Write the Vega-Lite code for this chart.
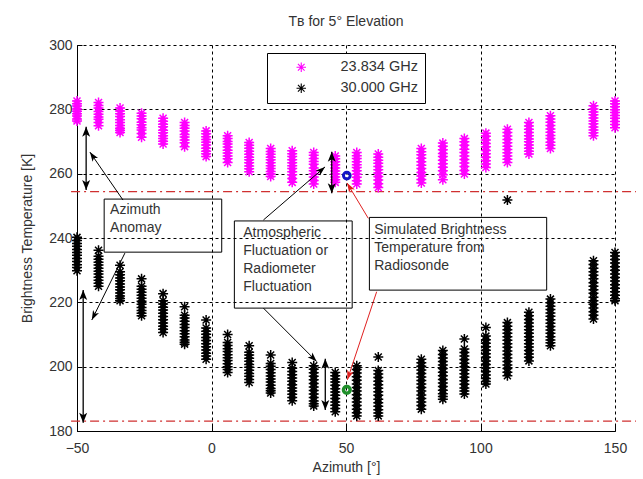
{
"$schema":"https://vega.github.io/schema/vega-lite/v6.json",
"width":538,"height":386,
"autosize":{"type":"none"},
"padding":{"left":77,"top":45,"right":28,"bottom":48},
"background":"white",
"config":{"view":{"stroke":null},"font":"Liberation Sans"},
"title":{"text":"Tʙ for 5° Elevation","fontSize":14,"fontWeight":"normal","color":"#333","offset":9,"anchor":"middle"},
"datasets":{
"tb":[
{"a":-50,"s":"23.834 GHz","t":282.6},{"a":-50,"s":"23.834 GHz","t":281.7},{"a":-50,"s":"23.834 GHz","t":281.0},{"a":-50,"s":"23.834 GHz","t":280.1},{"a":-50,"s":"23.834 GHz","t":279.4},{"a":-50,"s":"23.834 GHz","t":278.6},{"a":-50,"s":"23.834 GHz","t":277.9},{"a":-50,"s":"23.834 GHz","t":277.0},{"a":-50,"s":"23.834 GHz","t":276.4},
{"a":-42,"s":"23.834 GHz","t":282.1},{"a":-42,"s":"23.834 GHz","t":281.2},{"a":-42,"s":"23.834 GHz","t":280.4},{"a":-42,"s":"23.834 GHz","t":279.3},{"a":-42,"s":"23.834 GHz","t":278.5},{"a":-42,"s":"23.834 GHz","t":277.6},{"a":-42,"s":"23.834 GHz","t":276.9},{"a":-42,"s":"23.834 GHz","t":275.9},{"a":-42,"s":"23.834 GHz","t":274.9},
{"a":-34,"s":"23.834 GHz","t":280.4},{"a":-34,"s":"23.834 GHz","t":279.5},{"a":-34,"s":"23.834 GHz","t":278.6},{"a":-34,"s":"23.834 GHz","t":277.8},{"a":-34,"s":"23.834 GHz","t":276.8},{"a":-34,"s":"23.834 GHz","t":275.9},{"a":-34,"s":"23.834 GHz","t":275.0},{"a":-34,"s":"23.834 GHz","t":274.1},{"a":-34,"s":"23.834 GHz","t":273.5},{"a":-34,"s":"23.834 GHz","t":272.8},
{"a":-26,"s":"23.834 GHz","t":278.8},{"a":-26,"s":"23.834 GHz","t":277.9},{"a":-26,"s":"23.834 GHz","t":277.1},{"a":-26,"s":"23.834 GHz","t":276.0},{"a":-26,"s":"23.834 GHz","t":275.2},{"a":-26,"s":"23.834 GHz","t":274.3},{"a":-26,"s":"23.834 GHz","t":273.6},{"a":-26,"s":"23.834 GHz","t":272.5},{"a":-26,"s":"23.834 GHz","t":271.3},
{"a":-18,"s":"23.834 GHz","t":277.2},{"a":-18,"s":"23.834 GHz","t":276.3},{"a":-18,"s":"23.834 GHz","t":275.4},{"a":-18,"s":"23.834 GHz","t":274.6},{"a":-18,"s":"23.834 GHz","t":273.5},{"a":-18,"s":"23.834 GHz","t":272.7},{"a":-18,"s":"23.834 GHz","t":271.8},{"a":-18,"s":"23.834 GHz","t":270.9},{"a":-18,"s":"23.834 GHz","t":270.1},{"a":-18,"s":"23.834 GHz","t":269.2},
{"a":-10,"s":"23.834 GHz","t":275.9},{"a":-10,"s":"23.834 GHz","t":275.0},{"a":-10,"s":"23.834 GHz","t":274.1},{"a":-10,"s":"23.834 GHz","t":273.3},{"a":-10,"s":"23.834 GHz","t":272.2},{"a":-10,"s":"23.834 GHz","t":271.4},{"a":-10,"s":"23.834 GHz","t":270.5},{"a":-10,"s":"23.834 GHz","t":269.6},{"a":-10,"s":"23.834 GHz","t":268.4},
{"a":-2,"s":"23.834 GHz","t":273.3},{"a":-2,"s":"23.834 GHz","t":272.4},{"a":-2,"s":"23.834 GHz","t":271.5},{"a":-2,"s":"23.834 GHz","t":270.6},{"a":-2,"s":"23.834 GHz","t":269.8},{"a":-2,"s":"23.834 GHz","t":268.9},{"a":-2,"s":"23.834 GHz","t":267.9},{"a":-2,"s":"23.834 GHz","t":267.0},{"a":-2,"s":"23.834 GHz","t":266.2},{"a":-2,"s":"23.834 GHz","t":265.3},
{"a":6,"s":"23.834 GHz","t":271.8},{"a":6,"s":"23.834 GHz","t":270.9},{"a":6,"s":"23.834 GHz","t":270.0},{"a":6,"s":"23.834 GHz","t":269.2},{"a":6,"s":"23.834 GHz","t":268.3},{"a":6,"s":"23.834 GHz","t":267.3},{"a":6,"s":"23.834 GHz","t":266.4},{"a":6,"s":"23.834 GHz","t":265.5},{"a":6,"s":"23.834 GHz","t":264.6},{"a":6,"s":"23.834 GHz","t":263.5},
{"a":14,"s":"23.834 GHz","t":269.7},{"a":14,"s":"23.834 GHz","t":268.8},{"a":14,"s":"23.834 GHz","t":267.9},{"a":14,"s":"23.834 GHz","t":267.0},{"a":14,"s":"23.834 GHz","t":266.0},{"a":14,"s":"23.834 GHz","t":265.1},{"a":14,"s":"23.834 GHz","t":264.3},{"a":14,"s":"23.834 GHz","t":263.4},{"a":14,"s":"23.834 GHz","t":262.4},{"a":14,"s":"23.834 GHz","t":261.5},{"a":14,"s":"23.834 GHz","t":260.6},
{"a":22,"s":"23.834 GHz","t":267.8},{"a":22,"s":"23.834 GHz","t":266.9},{"a":22,"s":"23.834 GHz","t":266.0},{"a":22,"s":"23.834 GHz","t":265.1},{"a":22,"s":"23.834 GHz","t":264.3},{"a":22,"s":"23.834 GHz","t":263.4},{"a":22,"s":"23.834 GHz","t":262.5},{"a":22,"s":"23.834 GHz","t":261.6},{"a":22,"s":"23.834 GHz","t":260.7},{"a":22,"s":"23.834 GHz","t":259.9},{"a":22,"s":"23.834 GHz","t":259.1},
{"a":30,"s":"23.834 GHz","t":267.1},{"a":30,"s":"23.834 GHz","t":266.2},{"a":30,"s":"23.834 GHz","t":265.3},{"a":30,"s":"23.834 GHz","t":264.3},{"a":30,"s":"23.834 GHz","t":263.4},{"a":30,"s":"23.834 GHz","t":262.5},{"a":30,"s":"23.834 GHz","t":261.6},{"a":30,"s":"23.834 GHz","t":260.6},{"a":30,"s":"23.834 GHz","t":259.7},{"a":30,"s":"23.834 GHz","t":258.5},{"a":30,"s":"23.834 GHz","t":257.3},
{"a":38,"s":"23.834 GHz","t":266.6},{"a":38,"s":"23.834 GHz","t":265.7},{"a":38,"s":"23.834 GHz","t":264.7},{"a":38,"s":"23.834 GHz","t":263.8},{"a":38,"s":"23.834 GHz","t":262.9},{"a":38,"s":"23.834 GHz","t":261.8},{"a":38,"s":"23.834 GHz","t":260.9},{"a":38,"s":"23.834 GHz","t":260.0},{"a":38,"s":"23.834 GHz","t":259.0},{"a":38,"s":"23.834 GHz","t":257.9},{"a":38,"s":"23.834 GHz","t":256.8},
{"a":46,"s":"23.834 GHz","t":265.5},{"a":46,"s":"23.834 GHz","t":264.6},{"a":46,"s":"23.834 GHz","t":263.7},{"a":46,"s":"23.834 GHz","t":262.8},{"a":46,"s":"23.834 GHz","t":261.8},{"a":46,"s":"23.834 GHz","t":260.8},{"a":46,"s":"23.834 GHz","t":259.9},{"a":46,"s":"23.834 GHz","t":259.0},{"a":46,"s":"23.834 GHz","t":258.1},{"a":46,"s":"23.834 GHz","t":257.3},
{"a":54,"s":"23.834 GHz","t":266.6},{"a":54,"s":"23.834 GHz","t":265.6},{"a":54,"s":"23.834 GHz","t":264.7},{"a":54,"s":"23.834 GHz","t":263.7},{"a":54,"s":"23.834 GHz","t":262.8},{"a":54,"s":"23.834 GHz","t":261.9},{"a":54,"s":"23.834 GHz","t":260.9},{"a":54,"s":"23.834 GHz","t":259.8},{"a":54,"s":"23.834 GHz","t":258.9},{"a":54,"s":"23.834 GHz","t":257.8},{"a":54,"s":"23.834 GHz","t":256.8},
{"a":62,"s":"23.834 GHz","t":266.1},{"a":62,"s":"23.834 GHz","t":265.1},{"a":62,"s":"23.834 GHz","t":264.2},{"a":62,"s":"23.834 GHz","t":263.2},{"a":62,"s":"23.834 GHz","t":262.2},{"a":62,"s":"23.834 GHz","t":261.2},{"a":62,"s":"23.834 GHz","t":260.2},{"a":62,"s":"23.834 GHz","t":259.1},{"a":62,"s":"23.834 GHz","t":258.0},{"a":62,"s":"23.834 GHz","t":256.9},{"a":62,"s":"23.834 GHz","t":255.7},
{"a":78,"s":"23.834 GHz","t":267.8},{"a":78,"s":"23.834 GHz","t":266.8},{"a":78,"s":"23.834 GHz","t":265.9},{"a":78,"s":"23.834 GHz","t":264.8},{"a":78,"s":"23.834 GHz","t":263.7},{"a":78,"s":"23.834 GHz","t":262.6},{"a":78,"s":"23.834 GHz","t":261.6},{"a":78,"s":"23.834 GHz","t":260.4},{"a":78,"s":"23.834 GHz","t":259.3},{"a":78,"s":"23.834 GHz","t":258.2},{"a":78,"s":"23.834 GHz","t":257.1},
{"a":86,"s":"23.834 GHz","t":269.5},{"a":86,"s":"23.834 GHz","t":268.5},{"a":86,"s":"23.834 GHz","t":267.4},{"a":86,"s":"23.834 GHz","t":266.3},{"a":86,"s":"23.834 GHz","t":265.3},{"a":86,"s":"23.834 GHz","t":264.2},{"a":86,"s":"23.834 GHz","t":263.1},{"a":86,"s":"23.834 GHz","t":262.0},{"a":86,"s":"23.834 GHz","t":260.9},{"a":86,"s":"23.834 GHz","t":259.7},{"a":86,"s":"23.834 GHz","t":258.1},
{"a":94,"s":"23.834 GHz","t":270.9},{"a":94,"s":"23.834 GHz","t":269.9},{"a":94,"s":"23.834 GHz","t":268.8},{"a":94,"s":"23.834 GHz","t":267.6},{"a":94,"s":"23.834 GHz","t":266.6},{"a":94,"s":"23.834 GHz","t":265.5},{"a":94,"s":"23.834 GHz","t":264.4},{"a":94,"s":"23.834 GHz","t":263.3},{"a":94,"s":"23.834 GHz","t":262.2},{"a":94,"s":"23.834 GHz","t":261.0},{"a":94,"s":"23.834 GHz","t":259.9},
{"a":102,"s":"23.834 GHz","t":272.6},{"a":102,"s":"23.834 GHz","t":271.6},{"a":102,"s":"23.834 GHz","t":270.5},{"a":102,"s":"23.834 GHz","t":269.4},{"a":102,"s":"23.834 GHz","t":268.4},{"a":102,"s":"23.834 GHz","t":267.2},{"a":102,"s":"23.834 GHz","t":266.2},{"a":102,"s":"23.834 GHz","t":265.1},{"a":102,"s":"23.834 GHz","t":264.0},{"a":102,"s":"23.834 GHz","t":263.0},{"a":102,"s":"23.834 GHz","t":261.9},
{"a":110,"s":"23.834 GHz","t":273.8},{"a":110,"s":"23.834 GHz","t":272.8},{"a":110,"s":"23.834 GHz","t":271.7},{"a":110,"s":"23.834 GHz","t":270.6},{"a":110,"s":"23.834 GHz","t":269.6},{"a":110,"s":"23.834 GHz","t":268.5},{"a":110,"s":"23.834 GHz","t":267.5},{"a":110,"s":"23.834 GHz","t":266.5},{"a":110,"s":"23.834 GHz","t":265.5},{"a":110,"s":"23.834 GHz","t":264.5},{"a":110,"s":"23.834 GHz","t":263.5},
{"a":118,"s":"23.834 GHz","t":275.9},{"a":118,"s":"23.834 GHz","t":274.8},{"a":118,"s":"23.834 GHz","t":273.8},{"a":118,"s":"23.834 GHz","t":272.8},{"a":118,"s":"23.834 GHz","t":271.8},{"a":118,"s":"23.834 GHz","t":270.8},{"a":118,"s":"23.834 GHz","t":269.9},{"a":118,"s":"23.834 GHz","t":268.9},{"a":118,"s":"23.834 GHz","t":267.9},{"a":118,"s":"23.834 GHz","t":267.0},{"a":118,"s":"23.834 GHz","t":266.1},
{"a":126,"s":"23.834 GHz","t":278.0},{"a":126,"s":"23.834 GHz","t":277.0},{"a":126,"s":"23.834 GHz","t":276.0},{"a":126,"s":"23.834 GHz","t":275.0},{"a":126,"s":"23.834 GHz","t":273.9},{"a":126,"s":"23.834 GHz","t":272.9},{"a":126,"s":"23.834 GHz","t":271.9},{"a":126,"s":"23.834 GHz","t":270.9},{"a":126,"s":"23.834 GHz","t":269.8},{"a":126,"s":"23.834 GHz","t":268.8},{"a":126,"s":"23.834 GHz","t":267.8},
{"a":142,"s":"23.834 GHz","t":281.1},{"a":142,"s":"23.834 GHz","t":280.1},{"a":142,"s":"23.834 GHz","t":279.2},{"a":142,"s":"23.834 GHz","t":278.3},{"a":142,"s":"23.834 GHz","t":277.3},{"a":142,"s":"23.834 GHz","t":276.4},{"a":142,"s":"23.834 GHz","t":275.5},{"a":142,"s":"23.834 GHz","t":274.5},{"a":142,"s":"23.834 GHz","t":273.6},{"a":142,"s":"23.834 GHz","t":272.7},{"a":142,"s":"23.834 GHz","t":271.8},
{"a":150,"s":"23.834 GHz","t":282.6},{"a":150,"s":"23.834 GHz","t":281.7},{"a":150,"s":"23.834 GHz","t":280.8},{"a":150,"s":"23.834 GHz","t":279.9},{"a":150,"s":"23.834 GHz","t":279.0},{"a":150,"s":"23.834 GHz","t":278.1},{"a":150,"s":"23.834 GHz","t":277.2},{"a":150,"s":"23.834 GHz","t":276.2},{"a":150,"s":"23.834 GHz","t":275.3},{"a":150,"s":"23.834 GHz","t":274.3},
{"a":-50,"s":"30.000 GHz","t":240.2},{"a":-50,"s":"30.000 GHz","t":239.2},{"a":-50,"s":"30.000 GHz","t":238.3},{"a":-50,"s":"30.000 GHz","t":237.4},{"a":-50,"s":"30.000 GHz","t":236.4},{"a":-50,"s":"30.000 GHz","t":235.5},{"a":-50,"s":"30.000 GHz","t":234.6},{"a":-50,"s":"30.000 GHz","t":233.6},{"a":-50,"s":"30.000 GHz","t":232.7},{"a":-50,"s":"30.000 GHz","t":231.7},{"a":-50,"s":"30.000 GHz","t":230.8},{"a":-50,"s":"30.000 GHz","t":229.8},
{"a":-42,"s":"30.000 GHz","t":236.2},{"a":-42,"s":"30.000 GHz","t":234.3},{"a":-42,"s":"30.000 GHz","t":233.4},{"a":-42,"s":"30.000 GHz","t":232.5},{"a":-42,"s":"30.000 GHz","t":231.6},{"a":-42,"s":"30.000 GHz","t":230.6},{"a":-42,"s":"30.000 GHz","t":229.7},{"a":-42,"s":"30.000 GHz","t":228.8},{"a":-42,"s":"30.000 GHz","t":227.8},{"a":-42,"s":"30.000 GHz","t":226.9},{"a":-42,"s":"30.000 GHz","t":225.9},{"a":-42,"s":"30.000 GHz","t":225.0},
{"a":-34,"s":"30.000 GHz","t":231.5},{"a":-34,"s":"30.000 GHz","t":229.5},{"a":-34,"s":"30.000 GHz","t":228.6},{"a":-34,"s":"30.000 GHz","t":227.6},{"a":-34,"s":"30.000 GHz","t":226.7},{"a":-34,"s":"30.000 GHz","t":225.7},{"a":-34,"s":"30.000 GHz","t":224.8},{"a":-34,"s":"30.000 GHz","t":223.9},{"a":-34,"s":"30.000 GHz","t":222.9},{"a":-34,"s":"30.000 GHz","t":222.0},{"a":-34,"s":"30.000 GHz","t":221.2},{"a":-34,"s":"30.000 GHz","t":220.5},
{"a":-26,"s":"30.000 GHz","t":227.3},{"a":-26,"s":"30.000 GHz","t":225.0},{"a":-26,"s":"30.000 GHz","t":224.1},{"a":-26,"s":"30.000 GHz","t":223.1},{"a":-26,"s":"30.000 GHz","t":222.2},{"a":-26,"s":"30.000 GHz","t":221.3},{"a":-26,"s":"30.000 GHz","t":220.3},{"a":-26,"s":"30.000 GHz","t":219.4},{"a":-26,"s":"30.000 GHz","t":218.4},{"a":-26,"s":"30.000 GHz","t":217.5},{"a":-26,"s":"30.000 GHz","t":216.6},{"a":-26,"s":"30.000 GHz","t":215.8},
{"a":-18,"s":"30.000 GHz","t":222.7},{"a":-18,"s":"30.000 GHz","t":220.5},{"a":-18,"s":"30.000 GHz","t":219.5},{"a":-18,"s":"30.000 GHz","t":218.5},{"a":-18,"s":"30.000 GHz","t":217.6},{"a":-18,"s":"30.000 GHz","t":216.6},{"a":-18,"s":"30.000 GHz","t":215.6},{"a":-18,"s":"30.000 GHz","t":214.6},{"a":-18,"s":"30.000 GHz","t":213.6},{"a":-18,"s":"30.000 GHz","t":212.6},{"a":-18,"s":"30.000 GHz","t":211.6},{"a":-18,"s":"30.000 GHz","t":210.6},
{"a":-10,"s":"30.000 GHz","t":218.6},{"a":-10,"s":"30.000 GHz","t":216.0},{"a":-10,"s":"30.000 GHz","t":215.1},{"a":-10,"s":"30.000 GHz","t":214.1},{"a":-10,"s":"30.000 GHz","t":213.1},{"a":-10,"s":"30.000 GHz","t":212.2},{"a":-10,"s":"30.000 GHz","t":211.2},{"a":-10,"s":"30.000 GHz","t":210.2},{"a":-10,"s":"30.000 GHz","t":209.3},{"a":-10,"s":"30.000 GHz","t":208.3},{"a":-10,"s":"30.000 GHz","t":207.6},{"a":-10,"s":"30.000 GHz","t":207.0},
{"a":-2,"s":"30.000 GHz","t":214.5},{"a":-2,"s":"30.000 GHz","t":212.0},{"a":-2,"s":"30.000 GHz","t":211.0},{"a":-2,"s":"30.000 GHz","t":210.1},{"a":-2,"s":"30.000 GHz","t":209.1},{"a":-2,"s":"30.000 GHz","t":208.1},{"a":-2,"s":"30.000 GHz","t":207.1},{"a":-2,"s":"30.000 GHz","t":206.2},{"a":-2,"s":"30.000 GHz","t":205.2},{"a":-2,"s":"30.000 GHz","t":204.2},{"a":-2,"s":"30.000 GHz","t":203.3},{"a":-2,"s":"30.000 GHz","t":202.3},
{"a":6,"s":"30.000 GHz","t":210.0},{"a":6,"s":"30.000 GHz","t":207.5},{"a":6,"s":"30.000 GHz","t":206.6},{"a":6,"s":"30.000 GHz","t":205.6},{"a":6,"s":"30.000 GHz","t":204.7},{"a":6,"s":"30.000 GHz","t":203.7},{"a":6,"s":"30.000 GHz","t":202.8},{"a":6,"s":"30.000 GHz","t":201.9},{"a":6,"s":"30.000 GHz","t":200.9},{"a":6,"s":"30.000 GHz","t":200.0},{"a":6,"s":"30.000 GHz","t":199.1},{"a":6,"s":"30.000 GHz","t":198.2},
{"a":14,"s":"30.000 GHz","t":206.5},{"a":14,"s":"30.000 GHz","t":204.5},{"a":14,"s":"30.000 GHz","t":203.6},{"a":14,"s":"30.000 GHz","t":202.6},{"a":14,"s":"30.000 GHz","t":201.7},{"a":14,"s":"30.000 GHz","t":200.7},{"a":14,"s":"30.000 GHz","t":199.8},{"a":14,"s":"30.000 GHz","t":198.9},{"a":14,"s":"30.000 GHz","t":197.9},{"a":14,"s":"30.000 GHz","t":197.0},{"a":14,"s":"30.000 GHz","t":196.0},{"a":14,"s":"30.000 GHz","t":195.1},
{"a":22,"s":"30.000 GHz","t":203.6},{"a":22,"s":"30.000 GHz","t":201.0},{"a":22,"s":"30.000 GHz","t":200.1},{"a":22,"s":"30.000 GHz","t":199.1},{"a":22,"s":"30.000 GHz","t":198.1},{"a":22,"s":"30.000 GHz","t":197.1},{"a":22,"s":"30.000 GHz","t":196.2},{"a":22,"s":"30.000 GHz","t":195.2},{"a":22,"s":"30.000 GHz","t":194.2},{"a":22,"s":"30.000 GHz","t":193.2},{"a":22,"s":"30.000 GHz","t":192.5},{"a":22,"s":"30.000 GHz","t":191.8},
{"a":30,"s":"30.000 GHz","t":201.3},{"a":30,"s":"30.000 GHz","t":199.5},{"a":30,"s":"30.000 GHz","t":198.5},{"a":30,"s":"30.000 GHz","t":197.5},{"a":30,"s":"30.000 GHz","t":196.5},{"a":30,"s":"30.000 GHz","t":195.5},{"a":30,"s":"30.000 GHz","t":194.4},{"a":30,"s":"30.000 GHz","t":193.4},{"a":30,"s":"30.000 GHz","t":192.4},{"a":30,"s":"30.000 GHz","t":191.4},{"a":30,"s":"30.000 GHz","t":190.4},{"a":30,"s":"30.000 GHz","t":189.4},
{"a":38,"s":"30.000 GHz","t":200.3},{"a":38,"s":"30.000 GHz","t":199.2},{"a":38,"s":"30.000 GHz","t":198.1},{"a":38,"s":"30.000 GHz","t":197.0},{"a":38,"s":"30.000 GHz","t":195.9},{"a":38,"s":"30.000 GHz","t":194.8},{"a":38,"s":"30.000 GHz","t":193.7},{"a":38,"s":"30.000 GHz","t":192.6},{"a":38,"s":"30.000 GHz","t":191.5},{"a":38,"s":"30.000 GHz","t":190.4},{"a":38,"s":"30.000 GHz","t":189.3},{"a":38,"s":"30.000 GHz","t":188.5},{"a":38,"s":"30.000 GHz","t":187.8},
{"a":46,"s":"30.000 GHz","t":198.2},{"a":46,"s":"30.000 GHz","t":197.2},{"a":46,"s":"30.000 GHz","t":196.2},{"a":46,"s":"30.000 GHz","t":195.2},{"a":46,"s":"30.000 GHz","t":194.2},{"a":46,"s":"30.000 GHz","t":193.1},{"a":46,"s":"30.000 GHz","t":192.1},{"a":46,"s":"30.000 GHz","t":191.1},{"a":46,"s":"30.000 GHz","t":190.1},{"a":46,"s":"30.000 GHz","t":189.0},{"a":46,"s":"30.000 GHz","t":188.0},{"a":46,"s":"30.000 GHz","t":187.0},{"a":46,"s":"30.000 GHz","t":186.0},
{"a":54,"s":"30.000 GHz","t":200.3},{"a":54,"s":"30.000 GHz","t":199.1},{"a":54,"s":"30.000 GHz","t":198.0},{"a":54,"s":"30.000 GHz","t":196.9},{"a":54,"s":"30.000 GHz","t":195.8},{"a":54,"s":"30.000 GHz","t":194.6},{"a":54,"s":"30.000 GHz","t":193.5},{"a":54,"s":"30.000 GHz","t":192.4},{"a":54,"s":"30.000 GHz","t":191.3},{"a":54,"s":"30.000 GHz","t":190.1},{"a":54,"s":"30.000 GHz","t":189.0},{"a":54,"s":"30.000 GHz","t":187.9},{"a":54,"s":"30.000 GHz","t":186.8},{"a":54,"s":"30.000 GHz","t":185.7},{"a":54,"s":"30.000 GHz","t":184.7},
{"a":62,"s":"30.000 GHz","t":203.0},{"a":62,"s":"30.000 GHz","t":198.8},{"a":62,"s":"30.000 GHz","t":197.7},{"a":62,"s":"30.000 GHz","t":196.6},{"a":62,"s":"30.000 GHz","t":195.5},{"a":62,"s":"30.000 GHz","t":194.4},{"a":62,"s":"30.000 GHz","t":193.3},{"a":62,"s":"30.000 GHz","t":192.2},{"a":62,"s":"30.000 GHz","t":191.1},{"a":62,"s":"30.000 GHz","t":189.9},{"a":62,"s":"30.000 GHz","t":188.8},{"a":62,"s":"30.000 GHz","t":187.7},{"a":62,"s":"30.000 GHz","t":186.6},{"a":62,"s":"30.000 GHz","t":185.6},{"a":62,"s":"30.000 GHz","t":184.7},
{"a":78,"s":"30.000 GHz","t":202.3},{"a":78,"s":"30.000 GHz","t":201.2},{"a":78,"s":"30.000 GHz","t":200.1},{"a":78,"s":"30.000 GHz","t":199.0},{"a":78,"s":"30.000 GHz","t":197.9},{"a":78,"s":"30.000 GHz","t":196.8},{"a":78,"s":"30.000 GHz","t":195.7},{"a":78,"s":"30.000 GHz","t":194.6},{"a":78,"s":"30.000 GHz","t":193.5},{"a":78,"s":"30.000 GHz","t":192.4},{"a":78,"s":"30.000 GHz","t":191.2},{"a":78,"s":"30.000 GHz","t":190.1},{"a":78,"s":"30.000 GHz","t":189.0},{"a":78,"s":"30.000 GHz","t":187.9},{"a":78,"s":"30.000 GHz","t":186.8},
{"a":86,"s":"30.000 GHz","t":205.0},{"a":86,"s":"30.000 GHz","t":203.8},{"a":86,"s":"30.000 GHz","t":202.7},{"a":86,"s":"30.000 GHz","t":201.6},{"a":86,"s":"30.000 GHz","t":200.5},{"a":86,"s":"30.000 GHz","t":199.4},{"a":86,"s":"30.000 GHz","t":198.3},{"a":86,"s":"30.000 GHz","t":197.2},{"a":86,"s":"30.000 GHz","t":196.0},{"a":86,"s":"30.000 GHz","t":194.9},{"a":86,"s":"30.000 GHz","t":193.8},{"a":86,"s":"30.000 GHz","t":192.7},{"a":86,"s":"30.000 GHz","t":191.6},{"a":86,"s":"30.000 GHz","t":190.7},{"a":86,"s":"30.000 GHz","t":189.9},
{"a":94,"s":"30.000 GHz","t":208.6},{"a":94,"s":"30.000 GHz","t":205.5},{"a":94,"s":"30.000 GHz","t":204.4},{"a":94,"s":"30.000 GHz","t":203.3},{"a":94,"s":"30.000 GHz","t":202.2},{"a":94,"s":"30.000 GHz","t":201.1},{"a":94,"s":"30.000 GHz","t":200.0},{"a":94,"s":"30.000 GHz","t":198.9},{"a":94,"s":"30.000 GHz","t":197.8},{"a":94,"s":"30.000 GHz","t":196.7},{"a":94,"s":"30.000 GHz","t":195.6},{"a":94,"s":"30.000 GHz","t":194.5},{"a":94,"s":"30.000 GHz","t":193.4},{"a":94,"s":"30.000 GHz","t":192.4},{"a":94,"s":"30.000 GHz","t":191.5},
{"a":102,"s":"30.000 GHz","t":212.2},{"a":102,"s":"30.000 GHz","t":209.5},{"a":102,"s":"30.000 GHz","t":208.4},{"a":102,"s":"30.000 GHz","t":207.3},{"a":102,"s":"30.000 GHz","t":206.2},{"a":102,"s":"30.000 GHz","t":205.1},{"a":102,"s":"30.000 GHz","t":204.0},{"a":102,"s":"30.000 GHz","t":202.9},{"a":102,"s":"30.000 GHz","t":201.8},{"a":102,"s":"30.000 GHz","t":200.7},{"a":102,"s":"30.000 GHz","t":199.6},{"a":102,"s":"30.000 GHz","t":198.5},{"a":102,"s":"30.000 GHz","t":197.4},{"a":102,"s":"30.000 GHz","t":196.3},{"a":102,"s":"30.000 GHz","t":195.4},{"a":102,"s":"30.000 GHz","t":194.6},
{"a":110,"s":"30.000 GHz","t":251.8},
{"a":110,"s":"30.000 GHz","t":213.7},{"a":110,"s":"30.000 GHz","t":212.6},{"a":110,"s":"30.000 GHz","t":211.5},{"a":110,"s":"30.000 GHz","t":210.4},{"a":110,"s":"30.000 GHz","t":209.3},{"a":110,"s":"30.000 GHz","t":208.2},{"a":110,"s":"30.000 GHz","t":207.1},{"a":110,"s":"30.000 GHz","t":206.0},{"a":110,"s":"30.000 GHz","t":204.9},{"a":110,"s":"30.000 GHz","t":203.8},{"a":110,"s":"30.000 GHz","t":202.7},{"a":110,"s":"30.000 GHz","t":201.6},{"a":110,"s":"30.000 GHz","t":200.5},{"a":110,"s":"30.000 GHz","t":199.4},{"a":110,"s":"30.000 GHz","t":198.3},{"a":110,"s":"30.000 GHz","t":197.2},
{"a":118,"s":"30.000 GHz","t":216.9},{"a":118,"s":"30.000 GHz","t":215.8},{"a":118,"s":"30.000 GHz","t":214.7},{"a":118,"s":"30.000 GHz","t":213.6},{"a":118,"s":"30.000 GHz","t":212.5},{"a":118,"s":"30.000 GHz","t":211.5},{"a":118,"s":"30.000 GHz","t":210.4},{"a":118,"s":"30.000 GHz","t":209.3},{"a":118,"s":"30.000 GHz","t":208.2},{"a":118,"s":"30.000 GHz","t":207.1},{"a":118,"s":"30.000 GHz","t":206.1},{"a":118,"s":"30.000 GHz","t":205.0},{"a":118,"s":"30.000 GHz","t":203.9},{"a":118,"s":"30.000 GHz","t":202.9},{"a":118,"s":"30.000 GHz","t":201.8},
{"a":126,"s":"30.000 GHz","t":221.0},{"a":126,"s":"30.000 GHz","t":219.9},{"a":126,"s":"30.000 GHz","t":218.8},{"a":126,"s":"30.000 GHz","t":217.8},{"a":126,"s":"30.000 GHz","t":216.7},{"a":126,"s":"30.000 GHz","t":215.7},{"a":126,"s":"30.000 GHz","t":214.6},{"a":126,"s":"30.000 GHz","t":213.5},{"a":126,"s":"30.000 GHz","t":212.5},{"a":126,"s":"30.000 GHz","t":211.4},{"a":126,"s":"30.000 GHz","t":210.4},{"a":126,"s":"30.000 GHz","t":209.3},{"a":126,"s":"30.000 GHz","t":208.3},{"a":126,"s":"30.000 GHz","t":207.4},{"a":126,"s":"30.000 GHz","t":206.5},
{"a":142,"s":"30.000 GHz","t":232.9},{"a":142,"s":"30.000 GHz","t":231.8},{"a":142,"s":"30.000 GHz","t":230.6},{"a":142,"s":"30.000 GHz","t":229.5},{"a":142,"s":"30.000 GHz","t":228.4},{"a":142,"s":"30.000 GHz","t":227.3},{"a":142,"s":"30.000 GHz","t":226.1},{"a":142,"s":"30.000 GHz","t":225.0},{"a":142,"s":"30.000 GHz","t":223.9},{"a":142,"s":"30.000 GHz","t":222.8},{"a":142,"s":"30.000 GHz","t":221.6},{"a":142,"s":"30.000 GHz","t":220.5},{"a":142,"s":"30.000 GHz","t":219.4},{"a":142,"s":"30.000 GHz","t":218.2},{"a":142,"s":"30.000 GHz","t":217.1},{"a":142,"s":"30.000 GHz","t":216.0},{"a":142,"s":"30.000 GHz","t":214.8},
{"a":150,"s":"30.000 GHz","t":235.5},{"a":150,"s":"30.000 GHz","t":234.4},{"a":150,"s":"30.000 GHz","t":233.3},{"a":150,"s":"30.000 GHz","t":232.2},{"a":150,"s":"30.000 GHz","t":231.1},{"a":150,"s":"30.000 GHz","t":230.0},{"a":150,"s":"30.000 GHz","t":228.8},{"a":150,"s":"30.000 GHz","t":227.7},{"a":150,"s":"30.000 GHz","t":226.6},{"a":150,"s":"30.000 GHz","t":225.5},{"a":150,"s":"30.000 GHz","t":224.4},{"a":150,"s":"30.000 GHz","t":223.3},{"a":150,"s":"30.000 GHz","t":222.2},{"a":150,"s":"30.000 GHz","t":221.1},{"a":150,"s":"30.000 GHz","t":220.5}
],
"ann":[
{"id":1,"a":-32.9,"t":251.8,"a2":-45.2,"t2":266.7,"c":"k"},
{"id":2,"a":-32.2,"t":235.3,"a2":-44.5,"t2":214.5,"c":"k"},
{"id":3,"a":19.3,"t":245.6,"a2":42.2,"t2":262.1,"c":"k"},
{"id":4,"a":19.3,"t":218.2,"a2":39.1,"t2":201.6,"c":"k"},
{"id":5,"a":58.3,"t":246.1,"a2":50.4,"t2":257.1,"c":"r"},
{"id":6,"a":61.4,"t":223.3,"a2":50.5,"t2":195.9,"c":"r"}
],
"va":[
{"a":-46.6,"t":274.6,"t2":254.9},
{"a":-47.7,"t":223.8,"t2":182.6},
{"a":44.7,"t":266.8,"t2":253.9},
{"a":42.3,"t":202.5,"t2":186.5}
]
},
"layer":[
{"data":{"values":[{"t":254.4},{"t":183.1}]},
 "mark":{"type":"rule","color":"#d03030","strokeWidth":1.2,"strokeDash":[9,4,2,4]},
 "encoding":{"x":{"datum":-52.2,"type":"quantitative"},"x2":{"datum":157.8},"y":{"field":"t","type":"quantitative"}}},
{"data":{"name":"tb"},
 "mark":{"type":"point","shape":"M-1,0L1,0M0,-1L0,1M-0.7,-0.7L0.7,0.7M-0.7,0.7L0.7,-0.7","filled":false,"size":100,"strokeWidth":1.5,"opacity":1},
 "encoding":{
  "x":{"field":"a","type":"quantitative","scale":{"domain":[-50,150],"nice":false,"zero":false},
       "axis":{"title":"Azimuth [°]","values":[-50,0,50,100,150],"grid":true,"gridDash":[3,3],"gridColor":"#000","gridOpacity":1,"gridWidth":1,"domainColor":"#000","tickColor":"#000","tickSize":-6,"labelPadding":16,"labelFontSize":14,"labelColor":"#333","labelFlush":false,"titleFontSize":14,"titleFontWeight":"normal","titleColor":"#333","titlePadding":5}},
  "y":{"field":"t","type":"quantitative","scale":{"domain":[180,300],"nice":false,"zero":false},
       "axis":{"title":"Brightness Temperature [K]","values":[180,200,220,240,260,280,300],"grid":true,"gridDash":[3,3],"gridColor":"#000","gridOpacity":1,"gridWidth":1,"domainColor":"#000","tickColor":"#000","tickSize":-5,"labelPadding":10,"labelFontSize":14,"labelColor":"#333","labelFlush":false,"titleFontSize":14,"titleFontWeight":"normal","titleColor":"#333","titlePadding":14}},
  "color":{"field":"s","type":"nominal","scale":{"domain":["23.834 GHz","30.000 GHz"],"range":["#ff00ff","#000000"]},
       "legend":{"title":null,"orient":"none","legendX":190,"legendY":8,"direction":"vertical","strokeColor":"#000","fillColor":"white","padding":7,"labelFontSize":14.5,"labelColor":"#333","symbolType":"M-1,0L1,0M0,-1L0,1M-0.7,-0.7L0.7,0.7M-0.7,0.7L0.7,-0.7","symbolSize":90,"symbolStrokeWidth":1.1,"symbolFillColor":"transparent","symbolOffset":20,"labelOffset":32,"rowPadding":5,"labelLimit":300}}
 }},
{"data":{"name":"va"},"mark":{"type":"rule","color":"#000","strokeWidth":1.3},
 "encoding":{"x":{"field":"a","type":"quantitative"},"y":{"field":"t","type":"quantitative"},"y2":{"field":"t2"}}},
{"data":{"name":"va"},"mark":{"type":"point","shape":"M0,0L-0.8,2L0,1.5L0.8,2Z","filled":true,"size":100,"color":"#000","opacity":1},
 "encoding":{"x":{"field":"a","type":"quantitative"},"y":{"field":"t","type":"quantitative"}}},
{"data":{"name":"va"},"mark":{"type":"point","shape":"M0,0L-0.8,2L0,1.5L0.8,2Z","filled":true,"size":100,"color":"#000","opacity":1,"angle":180},
 "encoding":{"x":{"field":"a","type":"quantitative"},"y":{"field":"t2","type":"quantitative"}}},
{"data":{"name":"ann"},"transform":[{"filter":"datum.c=='k'"}],"mark":{"type":"rule","strokeWidth":1,"color":"#000"},
 "encoding":{"x":{"field":"a","type":"quantitative"},"y":{"field":"t","type":"quantitative"},"x2":{"field":"a2"},"y2":{"field":"t2"}}},
{"data":{"name":"ann"},"transform":[{"filter":"datum.c=='r'"}],"mark":{"type":"rule","strokeWidth":1,"color":"#e02020"},
 "encoding":{"x":{"field":"a","type":"quantitative"},"y":{"field":"t","type":"quantitative"},"x2":{"field":"a2"},"y2":{"field":"t2"}}},
{"data":{"name":"ann"},"transform":[{"filter":"datum.id==1"}],"mark":{"type":"point","shape":"M0,0L-0.7,2L0,1.5L0.7,2Z","filled":true,"size":90,"color":"#000","opacity":1,"angle":325.5},
 "encoding":{"x":{"field":"a2","type":"quantitative"},"y":{"field":"t2","type":"quantitative"}}},
{"data":{"name":"ann"},"transform":[{"filter":"datum.id==2"}],"mark":{"type":"point","shape":"M0,0L-0.7,2L0,1.5L0.7,2Z","filled":true,"size":90,"color":"#000","opacity":1,"angle":206.4},
 "encoding":{"x":{"field":"a2","type":"quantitative"},"y":{"field":"t2","type":"quantitative"}}},
{"data":{"name":"ann"},"transform":[{"filter":"datum.id==3"}],"mark":{"type":"point","shape":"M0,0L-0.7,2L0,1.5L0.7,2Z","filled":true,"size":90,"color":"#000","opacity":1,"angle":49.3},
 "encoding":{"x":{"field":"a2","type":"quantitative"},"y":{"field":"t2","type":"quantitative"}}},
{"data":{"name":"ann"},"transform":[{"filter":"datum.id==4"}],"mark":{"type":"point","shape":"M0,0L-0.7,2L0,1.5L0.7,2Z","filled":true,"size":90,"color":"#000","opacity":1,"angle":135},
 "encoding":{"x":{"field":"a2","type":"quantitative"},"y":{"field":"t2","type":"quantitative"}}},
{"data":{"name":"ann"},"transform":[{"filter":"datum.id==5"}],"mark":{"type":"point","shape":"M0,0L-0.7,2L0,1.5L0.7,2Z","filled":true,"size":90,"color":"#e02020","opacity":1,"angle":328.9},
 "encoding":{"x":{"field":"a2","type":"quantitative"},"y":{"field":"t2","type":"quantitative"}}},
{"data":{"name":"ann"},"transform":[{"filter":"datum.id==6"}],"mark":{"type":"point","shape":"M0,0L-0.7,2L0,1.5L0.7,2Z","filled":true,"size":90,"color":"#e02020","opacity":1,"angle":198.4},
 "encoding":{"x":{"field":"a2","type":"quantitative"},"y":{"field":"t2","type":"quantitative"}}},
{"data":{"values":[{"a":50.3,"t":259.4}]},"mark":{"type":"point","shape":"circle","filled":false,"size":45,"strokeWidth":3,"color":"#1515c8","opacity":1},
 "encoding":{"x":{"field":"a","type":"quantitative"},"y":{"field":"t","type":"quantitative"}}},
{"data":{"values":[{"a":50.3,"t":192.8}]},"mark":{"type":"point","shape":"circle","filled":false,"size":45,"strokeWidth":3.5,"color":"#1f8f2a","opacity":1},
 "encoding":{"x":{"field":"a","type":"quantitative"},"y":{"field":"t","type":"quantitative"}}},
{"data":{"values":[
  {"a":-39.9,"a2":3.8,"t":252.1,"t2":235.6},
  {"a":8.5,"a2":52.3,"t":245.3,"t2":218.2},
  {"a":58.7,"a2":124.6,"t":246.4,"t2":223.8}]},
 "mark":{"type":"rect","fill":null,"fillOpacity":0,"stroke":"#000","strokeWidth":1},
 "encoding":{"x":{"field":"a","type":"quantitative"},"x2":{"field":"a2"},"y":{"field":"t","type":"quantitative"},"y2":{"field":"t2"}}},
{"data":{"values":[
  {"a":-37.7,"t":251.0,"txt":"Azimuth\nAnomay"},
  {"a":11.8,"t":243.6,"txt":"Atmospheric\nFluctuation or\n Radiometer\n Fluctuation"},
  {"a":60.5,"t":244.6,"txt":" Simulated Brightness\nTemperature from\n Radiosonde"}]},
 "mark":{"type":"text","align":"left","baseline":"top","fontSize":14,"color":"#333","lineBreak":"\n","lineHeight":18},
 "encoding":{"x":{"field":"a","type":"quantitative"},"y":{"field":"t","type":"quantitative"},"text":{"field":"txt"}}}
]
}
